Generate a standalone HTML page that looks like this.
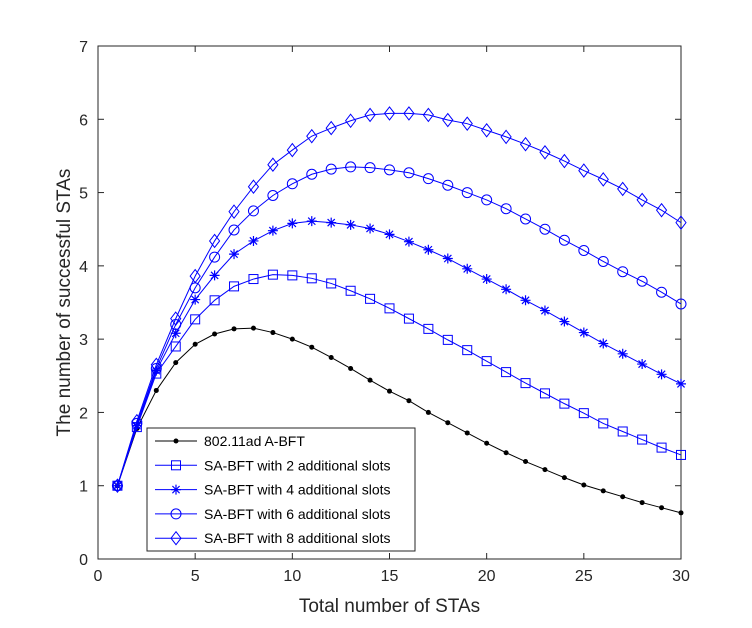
<!DOCTYPE html>
<html><head><meta charset="utf-8"><style>
body{margin:0;background:#fff}
svg{display:block;font-family:"Liberation Sans",sans-serif}
</style></head><body>
<svg id="chart" width="752" height="628" viewBox="0 0 752 628" xmlns="http://www.w3.org/2000/svg">
<rect width="752" height="628" fill="#fff"/>
<g id="plot"></g>
</svg>
<script>
const xValues=[1,2,3,4,5,6,7,8,9,10,11,12,13,14,15,16,17,18,19,20,21,22,23,24,25,26,27,28,29,30];
const abft=[1.0,1.78,2.3,2.68,2.93,3.07,3.14,3.15,3.09,3.0,2.89,2.75,2.6,2.44,2.29,2.16,2.0,1.86,1.72,1.58,1.45,1.33,1.22,1.11,1.01,0.93,0.85,0.77,0.70,0.63];
const sa2=[1,1.8,2.53,2.9,3.27,3.53,3.72,3.82,3.88,3.87,3.83,3.76,3.66,3.55,3.42,3.28,3.14,2.99,2.85,2.7,2.55,2.4,2.26,2.12,1.99,1.85,1.74,1.63,1.52,1.42];
const sa4=[1,1.82,2.57,3.08,3.54,3.87,4.16,4.34,4.48,4.58,4.61,4.59,4.56,4.51,4.43,4.33,4.22,4.1,3.96,3.82,3.68,3.53,3.39,3.24,3.09,2.94,2.8,2.66,2.52,2.39];
const sa6=[1,1.85,2.6,3.2,3.7,4.12,4.49,4.75,4.96,5.12,5.25,5.32,5.35,5.34,5.31,5.27,5.19,5.1,5.0,4.9,4.78,4.64,4.5,4.35,4.21,4.06,3.92,3.79,3.64,3.48];
const sa8=[1,1.88,2.65,3.28,3.86,4.34,4.74,5.08,5.38,5.58,5.77,5.88,5.98,6.06,6.08,6.08,6.06,5.99,5.94,5.85,5.76,5.66,5.55,5.43,5.3,5.18,5.05,4.9,4.76,4.59];
const xTicks=[0,5,10,15,20,25,30];
const yTicks=[0,1,2,3,4,5,6,7];
const seriesNames=["802.11ad A-BFT","SA-BFT with 2 additional slots","SA-BFT with 4 additional slots","SA-BFT with 6 additional slots","SA-BFT with 8 additional slots"];

const L=98,R=681,T=46,B=559;
const X=v=>L+(v-0)/(30-0)*(R-L);
const Y=v=>B-(v-0)/(7-0)*(B-T);
const NS="http://www.w3.org/2000/svg";
const g=document.getElementById('plot');
function mk(tag,attrs,parent){const e=document.createElementNS(NS,tag);for(const k in attrs)e.setAttribute(k,attrs[k]);(parent||g).appendChild(e);return e;}

// axes box
const box=mk('rect',{x:L,y:T,width:R-L,height:B-T,fill:'none',stroke:'#262626','stroke-width':1});


xTicks.forEach(t=>{
  const x=X(t);
  const a=mk('line',{x1:x,x2:x,y1:B,y2:B-6,stroke:'#262626'});
  
  
  const b=mk('line',{x1:x,x2:x,y1:T,y2:T+6,stroke:'#262626'});
  
  
  const tx=mk('text',{x:x,y:B+22,'text-anchor':'middle','font-size':16,fill:'#262626'});
  tx.textContent=t;
  
  
});
yTicks.forEach(t=>{
  const y=Y(t);
  const a=mk('line',{x1:L,x2:L+6,y1:y,y2:y,stroke:'#262626'});
  
  
  const b=mk('line',{x1:R,x2:R-6,y1:y,y2:y,stroke:'#262626'});
  
  
  const tx=mk('text',{x:L-10,y:y+6,'text-anchor':'end','font-size':16,fill:'#262626'});
  tx.textContent=t;
  
  
});
const xt=mk('text',{x:(L+R)/2,y:612,'text-anchor':'middle','font-size':19,fill:'#262626'});
xt.textContent='Total number of STAs';


const yt=mk('text',{x:0,y:0,'text-anchor':'middle','font-size':19,fill:'#262626',transform:`translate(70,${(T+B)/2}) rotate(-90)`});
yt.textContent='The number of successful STAs';



function marker(kind,x,y,color,parent){
  let e;
  if(kind==='dot') e=mk('circle',{cx:x,cy:y,r:2.5,fill:color},parent);
  else if(kind==='square') e=mk('rect',{x:x-4.5,y:y-4.5,width:9,height:9,fill:'none',stroke:color},parent);
  else if(kind==='circle') e=mk('circle',{cx:x,cy:y,r:5,fill:'none',stroke:color},parent);
  else if(kind==='diamond') e=mk('polygon',{points:`${x},${y-6.5} ${x+5},${y} ${x},${y+6.5} ${x-5},${y}`,fill:'none',stroke:color},parent);
  else { e=mk('path',{d:`M${x-5},${y}H${x+5}M${x},${y-5}V${y+5}M${x-3.6},${y-3.6}L${x+3.6},${y+3.6}M${x-3.6},${y+3.6}L${x+3.6},${y-3.6}`,stroke:color,'stroke-width':1.2},parent); }
  return e;
}
const series=[[abft,'dot','#000'],[sa2,'square','#0000ff'],[sa4,'star','#0000ff'],[sa6,'circle','#0000ff'],[sa8,'diamond','#0000ff']];
series.forEach((s,i)=>{
  const grp=mk('g',{});
  
  
  const pts=s[0].map((v,j)=>X(xValues[j])+','+Y(v)).join(' ');
  const pl=mk('polyline',{points:pts,fill:'none',stroke:s[2],'stroke-width':1},grp);
  
  
  s[0].forEach((v,j)=>{
    const m=marker(s[1],X(xValues[j]),Y(v),s[2],grp);
    
    
  });
});
// legend
const lg=mk('g',{});


mk('rect',{x:147,y:428,width:268,height:123,fill:'#fff',stroke:'#262626'},lg);
series.forEach((s,i)=>{
  const y=441+i*24.3;
  const en=mk('g',{},lg);
  
  
  mk('line',{x1:155,x2:197,y1:y,y2:y,stroke:s[2]},en);
  marker(s[1],176,y,s[2],en);
  const t=mk('text',{x:204,y:y+5,'font-size':14,fill:'#000'},en);
  t.textContent=seriesNames[i];
});
</script>
</body></html>
